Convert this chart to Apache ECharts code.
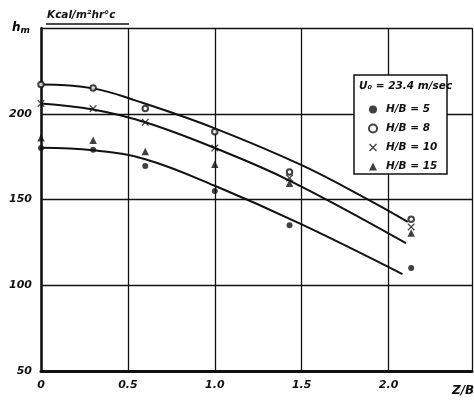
<!DOCTYPE html>
<html>
<head>
<meta charset="utf-8">
<script src="https://cdn.jsdelivr.net/npm/echarts@6/dist/echarts.min.js"></script>
<style>
  html, body { margin: 0; padding: 0; background: #fff; }
  #chart { width: 474px; height: 405px; }
</style>
</head>
<body>
<div id="chart"></div>
<script>
// Measured positions along Z/B
const zbValues = [0, 0.3, 0.6, 1.0, 1.43, 2.13];

// Heat transfer coefficient hm (kcal/m²hr°C) for each H/B ratio
const hb5  = [180, 179, 169.5, 155, 135, 110];
const hb8  = [217, 215, 203, 189.5, 166, 138.5];
const hb10 = [206, 203, 195, 180, 162.5, 134];
const hb15 = [186, 184.5, 178, 170.5, 159.5, 130.5];

// Hand-fitted curves through the measurements
const curveUpper  = [[0, 217], [0.3, 214.8], [0.55, 207.5], [1.0, 191.5], [1.5, 170], [1.89, 149.5], [2.11, 137]];
const curveMiddle = [[0, 206], [0.3, 202.5], [0.6, 195], [1.0, 180], [1.43, 161], [2.1, 124.5]];
const curveLower  = [[0, 180.2], [0.3, 178.7], [0.6, 173.5], [1.0, 158], [1.5, 135.5], [2.08, 106.5]];

const yTicks = [50, 100, 150, 200];
const xTicks = [0, 0.5, 1.0, 1.5, 2.0];

const seriesNames = ['H/B = 5', 'H/B = 8', 'H/B = 10', 'H/B = 15'];

const pair = (xs, ys) => xs.map((x, i) => [x, ys[i]]);

const crossPath = 'path://M0,1.2L1.2,0L5,3.8L8.8,0L10,1.2L6.2,5L10,8.8L8.8,10L5,6.2L1.2,10L0,8.8L3.8,5Z';

const labelFont = {
  color: '#111',
  fontFamily: 'DejaVu Sans',
  fontWeight: 'bold',
  fontStyle: 'italic',
  fontSize: 11
};

const chart = echarts.init(document.getElementById('chart'), null, { renderer: 'canvas' });

const curveStyle = { color: '#111', width: 2 };

chart.setOption({
  animation: false,
  backgroundColor: '#fff',
  grid: { left: 41, top: 28, width: 431, height: 343, containLabel: false },
  xAxis: {
    type: 'value',
    min: 0,
    max: 2.48,
    interval: 0.5,
    axisLine: { show: true, onZero: false, lineStyle: { color: '#111', width: 3 } },
    axisTick: { show: false },
    splitLine: { show: true, lineStyle: { color: '#111', width: 1.3 } },
    axisLabel: Object.assign({
      margin: 9,
      showMaxLabel: false,
      formatter: v => xTicks.includes(v) ? (v === 0 ? '0' : v.toFixed(1)) : ''
    }, labelFont)
  },
  yAxis: {
    type: 'value',
    min: 50,
    max: 250,
    interval: 50,
    axisLine: { show: true, onZero: false, lineStyle: { color: '#111', width: 2.5 } },
    axisTick: { show: false },
    splitLine: { show: true, lineStyle: { color: '#111', width: 1.3 } },
    axisLabel: Object.assign({
      margin: 9,
      formatter: v => yTicks.includes(v) ? String(v) : ''
    }, labelFont)
  },
  legend: {
    data: seriesNames,
    orient: 'vertical',
    left: 363,
    top: 99,
    itemWidth: 8,
    itemHeight: 8,
    itemGap: 8,
    z: 20,
    textStyle: Object.assign({}, labelFont, { fontSize: 10.5, padding: [0, 0, 0, 4] }),
    selectedMode: false
  },
  graphic: [
    {
      type: 'rect', z: 15,
      shape: { x: 354, y: 75, width: 93, height: 99 },
      style: { fill: '#fff', stroke: '#111', lineWidth: 1.5 }
    },
    {
      type: 'text', z: 16, left: 359, top: 81,
      style: Object.assign({ text: 'U₀ = 23.4 m/sec' }, labelFont, { fill: '#111', fontSize: 10.5 })
    },
    {
      type: 'text', z: 16, left: 12, top: 22,
      style: {
        text: '{h|h}{m|m}',
        rich: {
          h: Object.assign({}, labelFont, { fontSize: 12 }),
          m: Object.assign({}, labelFont, { fontSize: 9, padding: [5, 0, 0, 0] })
        }
      }
    },
    {
      type: 'text', z: 16, left: 47, top: 10,
      style: Object.assign({ text: 'Kcal/m²hr°c' }, labelFont, { fill: '#111', fontSize: 10.5 })
    },
    {
      type: 'line', z: 16,
      shape: { x1: 46, y1: 24, x2: 129, y2: 24 },
      style: { stroke: '#111', lineWidth: 1.5 }
    },
    {
      type: 'text', z: 16, left: 452, top: 385,
      style: Object.assign({ text: 'Z/B' }, labelFont, { fill: '#111', fontSize: 12 })
    }
  ],
  series: [
    { type: 'line', data: curveUpper, smooth: 0.4, showSymbol: false, lineStyle: curveStyle, silent: true, z: 3 },
    { type: 'line', data: curveMiddle, smooth: 0.4, showSymbol: false, lineStyle: curveStyle, silent: true, z: 3 },
    { type: 'line', data: curveLower, smooth: 0.4, showSymbol: false, lineStyle: curveStyle, silent: true, z: 3 },
    {
      name: seriesNames[0], type: 'scatter', data: pair(zbValues, hb5),
      symbol: 'circle', symbolSize: 6, z: 5,
      itemStyle: { color: '#111' }
    },
    {
      name: seriesNames[1], type: 'scatter', data: pair(zbValues, hb8),
      symbol: 'emptyCircle', symbolSize: 5.5, z: 5,
      itemStyle: { color: '#111', borderColor: '#111', borderWidth: 1.6 }
    },
    {
      name: seriesNames[2], type: 'scatter', data: pair(zbValues, hb10),
      symbol: crossPath, symbolSize: 7.5, z: 5,
      itemStyle: { color: '#111' }
    },
    {
      name: seriesNames[3], type: 'scatter', data: pair(zbValues, hb15),
      symbol: 'triangle', symbolSize: 7.5, z: 5,
      itemStyle: { color: '#111' }
    }
  ]
});
</script>
</body>
</html>
